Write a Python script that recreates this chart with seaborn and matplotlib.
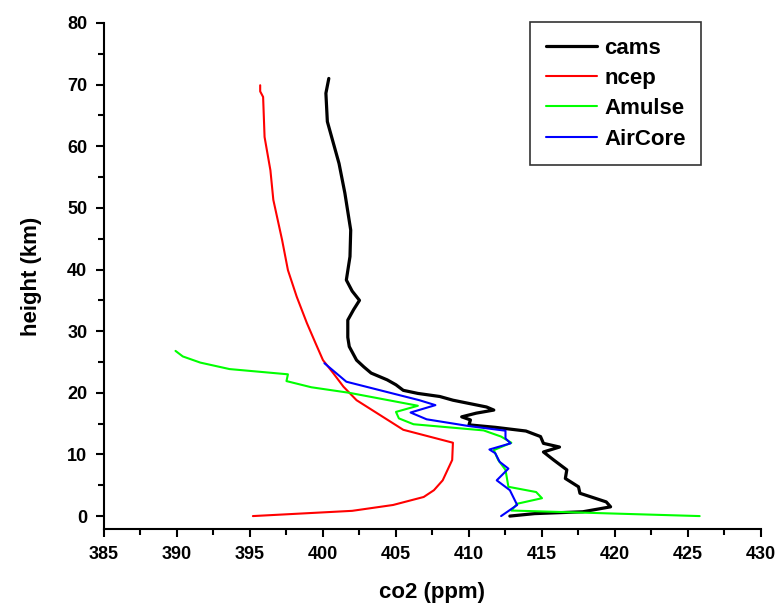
import matplotlib
matplotlib.use("Agg")
import matplotlib.pyplot as plt
import seaborn as sns
import pandas as pd
from matplotlib.ticker import MultipleLocator

# ---- data ----
cams_h = [0.0, 0.4, 0.7, 1.5, 2.3, 3.7, 4.75, 6.1, 7.5, 9.1, 10.4, 11.2, 11.8, 12.9, 13.8, 14.4,
          14.8, 15.6, 16.1, 16.7, 17.2, 17.7, 18.8, 19.4, 19.9, 20.4, 21.3, 22.1, 23.2, 24.2,
          25.3, 27.5, 29.0, 31.8, 33.5, 35.0, 36.5, 38.3, 42.1, 46.4, 52.4, 57.2, 64.0, 68.6, 71.0]
cams_c = [412.8, 414.5, 417.8, 419.7, 419.4, 417.6, 417.5, 416.6, 416.7, 415.8, 415.1, 416.2, 415.1,
          414.9, 413.9, 411.8, 410.0, 410.1, 409.5, 410.5, 411.7, 411.2, 408.9, 408.0, 406.5,
          405.5, 405.0, 404.4, 403.3, 402.8, 402.3, 401.8, 401.7, 401.7, 402.1, 402.5, 402.0,
          401.6, 401.85, 401.9, 401.5, 401.1, 400.3, 400.2, 400.4]

ncep_h = [0.0, 0.85, 1.8, 3.1, 4.2, 5.8, 9.1, 11.9, 14.0, 16.7, 18.8, 21.0, 23.2, 25.3, 28.0,
          31.3, 35.6, 39.9, 44.8, 51.3, 56.1, 61.5, 68.0, 68.9, 69.9]
ncep_c = [395.2, 402.0, 404.8, 406.9, 407.6, 408.2, 408.85, 408.9, 405.5, 403.7, 402.3, 401.4,
          400.7, 400.0, 399.5, 398.9, 398.2, 397.6, 397.2, 396.6, 396.4, 396.0, 395.9, 395.7, 395.7]

amulse_h = [0.0, 0.9, 2.0, 2.9, 3.9, 4.75, 7.5, 9.1, 10.7, 11.9, 12.9, 13.9, 14.9, 15.85, 16.9,
            17.9, 20.0, 20.9, 21.9, 23.0, 23.85, 24.9, 25.9, 26.8]
amulse_c = [425.8, 412.9, 413.3, 415.0, 414.6, 412.7, 412.5, 412.0, 411.7, 412.9, 412.2, 411.0,
            406.2, 405.2, 405.0, 406.5, 401.8, 399.2, 397.5, 397.6, 393.6, 391.6, 390.4, 389.9]

aircore_h = [0.0, 1.8, 4.2, 5.8, 7.7, 8.8, 10.2, 10.8, 11.8, 12.6, 13.85, 14.6, 15.7, 16.8,
             18.0, 18.8, 21.8, 24.8]
aircore_c = [412.2, 413.3, 412.8, 411.9, 412.7, 412.1, 411.8, 411.4, 412.85, 412.5, 412.5, 410.0,
             407.1, 406.0, 407.7, 406.6, 401.6, 400.1]

series = [("cams", cams_c, cams_h, "#000000", 2.3),
          ("ncep", ncep_c, ncep_h, "#ff0000", 1.5),
          ("Amulse", amulse_c, amulse_h, "#00ff00", 1.5),
          ("AirCore", aircore_c, aircore_h, "#0000ff", 1.5)]

sns.set_theme(style="ticks")
plt.rcParams['font.family'] = ['Liberation Sans', 'DejaVu Sans']
plt.rcParams['font.weight'] = 'bold'
plt.rcParams['text.color'] = 'black'
plt.rcParams['axes.labelcolor'] = 'black'
plt.rcParams['xtick.color'] = 'black'
plt.rcParams['ytick.color'] = 'black'

fig = plt.figure(figsize=(7.77, 6.08), dpi=100)
ax = fig.add_axes([0.1338, 0.1299, 0.8456, 0.8323])

for name, c, h, col, lw in series:
    df = pd.DataFrame({"co2": c, "height": h})
    sns.lineplot(data=df, x="co2", y="height", sort=False, estimator=None,
                 color=col, linewidth=lw, label=name, ax=ax)

ax.set_xlim(385, 430)
ax.set_ylim(-2.1, 80)
ax.xaxis.set_major_locator(MultipleLocator(5))
ax.xaxis.set_minor_locator(MultipleLocator(2.5))
ax.yaxis.set_major_locator(MultipleLocator(10))
ax.yaxis.set_minor_locator(MultipleLocator(5))

for s in ["top", "right"]:
    ax.spines[s].set_visible(False)
for s in ["left", "bottom"]:
    ax.spines[s].set_linewidth(1.5)
    ax.spines[s].set_color("black")

ax.tick_params(which="major", direction="out", length=6, width=1.5, labelsize=13,
               color="black", labelcolor="black", pad=6)
ax.tick_params(which="minor", direction="out", length=4, width=1.5, color="black")
for lab in ax.get_xticklabels() + ax.get_yticklabels():
    lab.set_fontweight("bold")

ax.set_xlabel("co2 (ppm)", fontsize=16, fontweight="bold", labelpad=14, color="black")
ax.set_ylabel("height (km)", fontsize=16, fontweight="bold", labelpad=18, color="black")

leg = ax.legend(loc="upper right", bbox_to_anchor=(0.909, 1.002), frameon=True, fancybox=False,
                edgecolor="black", fontsize=16, handlelength=2.3, handletextpad=0.33,
                labelspacing=0.42, borderpad=0.7, borderaxespad=0.0)
leg.get_frame().set_linewidth(1.2)
for t in leg.get_texts():
    t.set_fontweight("bold")
    t.set_color("black")

fig.savefig("out.png", dpi=100)
